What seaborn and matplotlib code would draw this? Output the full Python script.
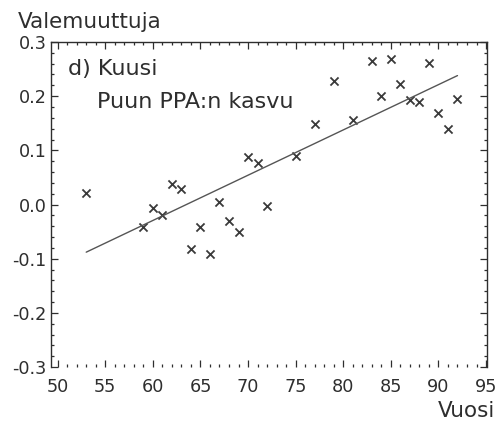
import matplotlib
matplotlib.use("Agg")
import matplotlib.pyplot as plt
from matplotlib.ticker import MultipleLocator
import seaborn as sns
import pandas as pd

# values (year 19xx, dummy variable)
years = [53, 59, 60, 61, 62, 63, 64, 65, 66, 67, 68, 69, 70, 71, 72,
         75, 77, 79, 81, 83, 84, 85, 86, 87, 88, 89, 90, 91, 92]
values = [0.022, -0.041, -0.007, -0.020, 0.038, 0.029, -0.083, -0.041, -0.092,
          0.005, -0.031, -0.050, 0.088, 0.077, -0.002, 0.089, 0.149, 0.228,
          0.156, 0.265, 0.200, 0.269, 0.223, 0.193, 0.189, 0.262, 0.168,
          0.140, 0.194]
trend_years = [53, 92]
trend_values = [-0.088, 0.238]

x_ticks = [50, 55, 60, 65, 70, 75, 80, 85, 90, 95]
y_ticks = [-0.3, -0.2, -0.1, 0.0, 0.1, 0.2, 0.3]

df = pd.DataFrame({"Vuosi": years, "Valemuuttuja": values})
trend = pd.DataFrame({"Vuosi": trend_years, "Valemuuttuja": trend_values})

sns.set_style("ticks")
plt.rcParams["font.family"] = ["DejaVu Sans"]
plt.rcParams["axes.unicode_minus"] = False

ink = "#2e2e2e"
fig = plt.figure(figsize=(5.01, 4.21), dpi=100)
W, H = 501, 421
ax = fig.add_axes([51 / W, 1 - 367 / H, 436 / W, 325 / H])

sns.lineplot(data=trend, x="Vuosi", y="Valemuuttuja", ax=ax,
             color="#555555", linewidth=1.0)
sns.scatterplot(data=df, x="Vuosi", y="Valemuuttuja", ax=ax,
                marker="x", s=34, color="#3a3a3a", linewidth=1.3)

ax.set_xlim(49.3, 95.1)
ax.set_ylim(-0.3, 0.3)
ax.set_xticks(x_ticks)
ax.set_yticks(y_ticks)
ax.set_xticklabels([str(t) for t in x_ticks])
ax.set_yticklabels([f"{t:.1f}" for t in y_ticks])
ax.xaxis.set_minor_locator(MultipleLocator(1))
ax.yaxis.set_minor_locator(MultipleLocator(0.02))
ax.set_xlabel("")
ax.set_ylabel("")

for side in ["left", "right", "top"]:
    ax.spines[side].set_visible(True)
    ax.spines[side].set_color(ink)
    ax.spines[side].set_linewidth(1.0)
ax.spines["bottom"].set_visible(False)

ax.tick_params(which="both", direction="in", top=True, right=True,
               bottom=True, left=True, color=ink, width=0.9)
ax.tick_params(which="major", length=5)
ax.tick_params(which="minor", length=2.2)
ax.tick_params(axis="y", which="major", labelsize=12.7, labelcolor=ink, pad=3)
ax.tick_params(axis="x", which="major", labelsize=12.7, labelcolor=ink, pad=8)

fig.text(18 / W, 1 - 28 / H, "Valemuuttuja", fontsize=15.5, color=ink,
         va="baseline", ha="left")
fig.text(68 / W, 1 - 75 / H, "d) Kuusi", fontsize=16, color=ink,
         va="baseline", ha="left")
fig.text(97 / W, 1 - 108 / H, "Puun PPA:n kasvu", fontsize=16, color=ink,
         va="baseline", ha="left")
fig.text(438 / W, 1 - 401 / H, "Vuosi", fontsize=15.5, color=ink,
         va="top", ha="left")

fig.savefig("out.png", dpi=100)
plt.close(fig)
